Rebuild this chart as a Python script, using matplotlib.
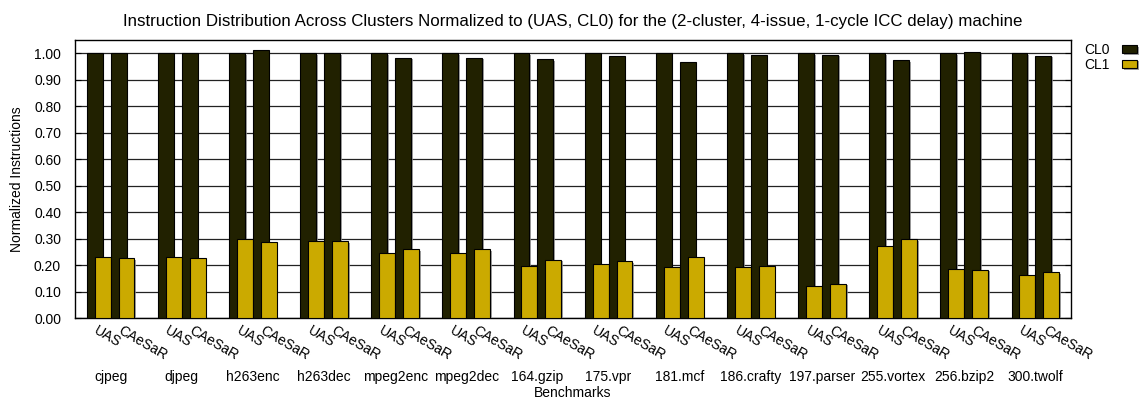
import matplotlib
matplotlib.use("Agg")
import matplotlib.pyplot as plt
import matplotlib.patheffects as pe
import numpy as np

plt.rcParams['font.family'] = ['Liberation Sans', 'DejaVu Sans']

benchmarks = ["cjpeg", "djpeg", "h263enc", "h263dec", "mpeg2enc", "mpeg2dec",
              "164.gzip", "175.vpr", "181.mcf", "186.crafty", "197.parser",
              "255.vortex", "256.bzip2", "300.twolf"]
schemes = ["UAS", "CAeSaR"]
uas_cl0 = [1.00, 1.00, 1.00, 1.00, 1.00, 1.00, 1.00, 1.00, 1.00, 1.00, 1.00, 1.00, 1.00, 1.00]
uas_cl1 = [0.230, 0.230, 0.298, 0.289, 0.245, 0.245, 0.198, 0.203, 0.194, 0.193, 0.122, 0.271, 0.186, 0.163]
caesar_cl0 = [1.000, 1.000, 1.012, 1.000, 0.983, 0.983, 0.978, 0.990, 0.966, 0.995, 0.994, 0.973, 1.005, 0.991]
caesar_cl1 = [0.227, 0.227, 0.286, 0.290, 0.260, 0.260, 0.220, 0.214, 0.230, 0.198, 0.130, 0.298, 0.182, 0.173]
yticks = [0.0, 0.1, 0.2, 0.3, 0.4, 0.5, 0.6, 0.7, 0.8, 0.9, 1.0]

c0 = '#212100'
c1 = '#cbaa00'

fig = plt.figure(figsize=(11.39, 4.01), dpi=100)
ax = fig.add_axes([75/1139, 1-318/401, (1071-75)/1139, (318-40)/401])

x = np.arange(len(benchmarks))
w = 0.224
shadow = [pe.SimplePatchShadow(offset=(1.2, -1.2), shadow_rgbFace='#888888', alpha=0.8), pe.Normal()]
series = [(uas_cl0, -0.224, c0, 'CL0'), (uas_cl1, -0.112, c1, 'CL1'),
          (caesar_cl0, 0.112, c0, None), (caesar_cl1, 0.224, c1, None)]
for z, (vals, off, col, lab) in enumerate(series):
    bars = ax.bar(x + off, vals, width=w, color=col, edgecolor='black', linewidth=0.8,
                  zorder=3 + z, label=lab)
    for b in bars:
        b.set_path_effects(shadow)

ax.set_xlim(-0.5, len(benchmarks) - 0.5)
ax.set_ylim(0, 1.05)
ax.set_yticks(yticks)
ax.set_yticklabels([f"{t:.2f}" for t in yticks], fontsize=10)
ax.yaxis.grid(True, color='#222222', linewidth=0.9)
ax.set_axisbelow(True)
ax.tick_params(axis='y', direction='in', length=4, right=True, pad=10)

tick_pos = []
tick_lab = []
for i in x:
    tick_pos += [i - 0.168, i + 0.168]
    tick_lab += schemes
ax.set_xticks(tick_pos)
ax.set_xticklabels(tick_lab, rotation=-30, ha='left', va='top', rotation_mode='anchor', fontsize=10)
ax.tick_params(axis='x', length=0, pad=4)

for i, name in zip(x, benchmarks):
    ax.text(i, -59/278, name, transform=ax.get_xaxis_transform(), ha='center', va='center', fontsize=10)
ax.text(0.5, -75/278, "Benchmarks", transform=ax.transAxes, ha='center', va='center', fontsize=10)

ax.set_ylabel("Normalized Instructions", fontsize=10)
ax.yaxis.set_label_coords(-51/996, 0.5)
ax.set_title("Instruction Distribution Across Clusters Normalized to (UAS, CL0) for the (2-cluster, 4-issue, 1-cycle ICC delay) machine",
             fontsize=12.2, pad=10)
for s in ax.spines.values():
    s.set_linewidth(1.0)

fig.legend(loc='upper left', bbox_to_anchor=(1077/1139, 1-36/401), frameon=False,
           markerfirst=False, handlelength=1.1, handleheight=0.55, labelspacing=0.05,
           handletextpad=0.9, borderpad=0, fontsize=10)

fig.savefig("out.png", dpi=100)
